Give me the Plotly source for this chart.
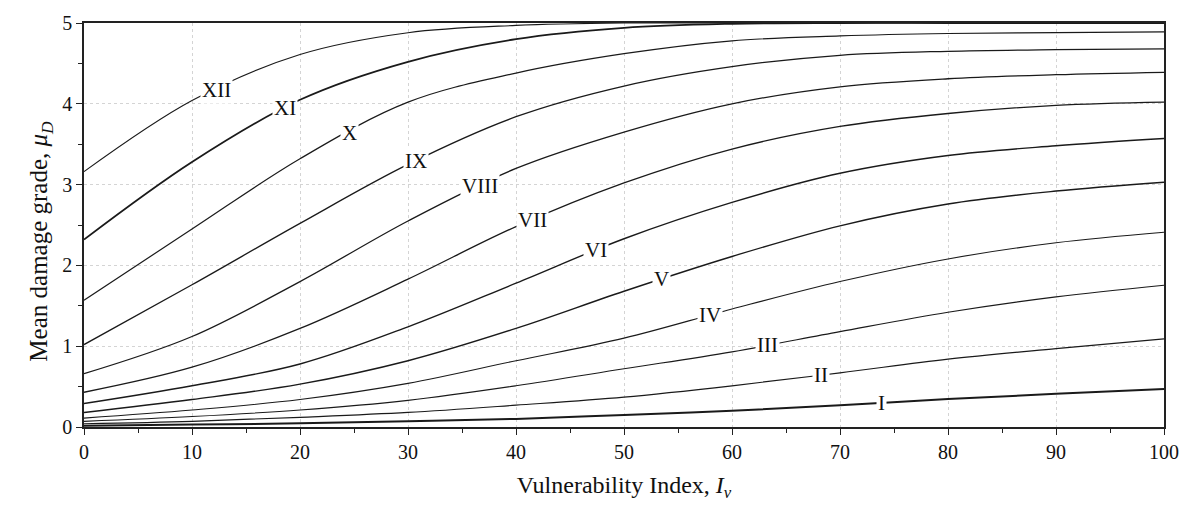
import numpy as np
import plotly.graph_objects as go

# Vulnerability index samples
iv = [0, 10, 20, 30, 40, 50, 60, 70, 80, 90, 100]

# Mean damage grade for each macroseismic intensity
mu_I    = [0.015, 0.03, 0.045, 0.07, 0.10, 0.15, 0.20, 0.27, 0.345, 0.41, 0.47]
mu_II   = [0.04, 0.07, 0.12, 0.18, 0.27, 0.37, 0.51, 0.67, 0.84, 0.97, 1.09]
mu_III  = [0.07, 0.13, 0.21, 0.33, 0.51, 0.72, 0.93, 1.18, 1.42, 1.61, 1.755]
mu_IV   = [0.11, 0.21, 0.34, 0.54, 0.82, 1.10, 1.46, 1.80, 2.08, 2.28, 2.41]
mu_V    = [0.18, 0.34, 0.53, 0.82, 1.22, 1.68, 2.11, 2.49, 2.76, 2.92, 3.03]
mu_VI   = [0.29, 0.51, 0.78, 1.24, 1.78, 2.33, 2.78, 3.14, 3.36, 3.48, 3.57]
mu_VII  = [0.43, 0.74, 1.22, 1.83, 2.48, 3.02, 3.44, 3.72, 3.88, 3.98, 4.02]
mu_VIII = [0.66, 1.12, 1.80, 2.55, 3.20, 3.65, 4.00, 4.21, 4.31, 4.36, 4.39]
mu_IX   = [1.02, 1.76, 2.52, 3.25, 3.84, 4.22, 4.46, 4.60, 4.65, 4.67, 4.68]
mu_X    = [1.57, 2.45, 3.32, 4.02, 4.38, 4.62, 4.78, 4.84, 4.87, 4.88, 4.89]
mu_XI   = [2.32, 3.28, 4.05, 4.52, 4.80, 4.94, 4.99, 5.0, 5.0, 5.0, 5.0]
mu_XII  = [3.16, 4.04, 4.61, 4.88, 4.97, 5.0, 5.0, 5.0, 5.0, 5.0, 5.0]

intensity_names = ["I", "II", "III", "IV", "V", "VI", "VII", "VIII", "IX", "X", "XI", "XII"]
series = [mu_I, mu_II, mu_III, mu_IV, mu_V, mu_VI, mu_VII, mu_VIII, mu_IX, mu_X, mu_XI, mu_XII]
# x position of each in-line curve label
label_x = [73.8, 68.2, 63.3, 58.0, 53.5, 47.4, 41.5, 36.7, 30.7, 24.6, 18.6, 12.3]
line_w = [2.0, 1.2, 1.1, 1.1, 1.4, 1.4, 1.3, 1.3, 1.3, 1.2, 1.8, 1.1]

SERIF = "Liberation Serif, Times New Roman, serif"

fig = go.Figure()
for name, ys, w in zip(intensity_names, series, line_w):
    fig.add_trace(go.Scatter(
        x=iv, y=ys, mode="lines", name=name,
        line=dict(color="#1a1a1a", width=w, shape="spline", smoothing=1.0),
        showlegend=False,
    ))

for name, ys, lx in zip(intensity_names, series, label_x):
    ly = float(np.interp(lx, iv, ys))
    fig.add_annotation(
        x=lx, y=ly, text=name, showarrow=False,
        font=dict(family=SERIF, size=21, color="#111"),
        bgcolor="white", borderpad=1,
    )

# y-axis title, set slightly below the axis midpoint
fig.add_annotation(
    xref="paper", yref="paper", x=-0.0565, y=0.46,
    text="Mean damage grade, <i>\u03bc</i><sub><i>D</i></sub>",
    textangle=-90, showarrow=False,
    font=dict(family=SERIF, size=25, color="#111"),
)

axis_common = dict(
    showline=True, linecolor="#222", linewidth=1.6, mirror=True,
    ticks="outside", ticklen=6, tickwidth=1.3, tickcolor="#222",
    showgrid=True, gridcolor="#d4d4d4", griddash="dot", gridwidth=1,
    zeroline=False,
    tickfont=dict(family=SERIF, size=20, color="#111"),
)

fig.update_xaxes(
    range=[0, 100], dtick=10, tick0=0,
    minor=dict(dtick=5, ticks="outside", ticklen=4, tickcolor="#222", showgrid=False),
    title=dict(text="Vulnerability Index, <i>I</i><sub><i>v</i></sub>",
               font=dict(family=SERIF, size=24, color="#111"), standoff=14),
    **axis_common,
)
fig.update_yaxes(
    range=[0, 5], dtick=1, tick0=0,
    minor=dict(dtick=0.5, ticks="outside", ticklen=4, tickcolor="#222", showgrid=False),
    **axis_common,
)

fig.update_layout(
    width=1191, height=506,
    margin=dict(l=84, r=25, t=17, b=79),
    paper_bgcolor="white", plot_bgcolor="white",
)

fig.write_html("out.html")
